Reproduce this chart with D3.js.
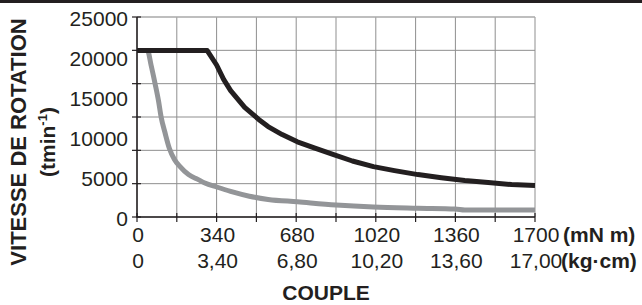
<!DOCTYPE html>
<html>
<head>
<meta charset="utf-8">
<script src="https://cdn.jsdelivr.net/npm/d3@7"></script>
<style>
  body { margin: 0; background: #fff; }
  svg { display: block; font-family: "Liberation Sans", Arial, Helvetica, sans-serif; }
</style>
</head>
<body>
<div id="chart"></div>
<script>
// Couple / vitesse de rotation
const torqueMN = [0, 45, 60, 77, 92, 103, 120, 138, 160, 184, 220, 260, 290, 340, 400, 480, 560, 685, 850, 1010, 1200, 1360, 1400, 1700];
const speedGray = [20800, 20800, 19000, 16700, 14500, 12500, 10500, 8600, 7200, 6300, 5300, 4700, 4250, 3750, 3200, 2600, 2200, 1900, 1500, 1250, 1100, 1000, 880, 875];

const torqueBlack = [0, 300, 340, 370, 400, 460, 520, 560, 620, 685, 760, 840, 920, 1010, 1100, 1200, 1300, 1400, 1500, 1600, 1700];
const speedBlack = [20800, 20800, 19000, 17200, 15800, 13700, 12200, 11300, 10300, 9400, 8600, 7800, 7000, 6300, 5800, 5300, 4900, 4550, 4300, 4050, 3950];

const yTicks = [0, 5000, 10000, 15000, 20000, 25000];
const xTicks = [0, 340, 680, 1020, 1360, 1700];
const xLabelsMN = ["0", "340", "680", "1020", "1360", "1700"];
const xLabelsKg = ["0", "3,40", "6,80", "10,20", "13,60", "17,00"];
const xGridStep = 170;
const yGridCount = 6;

const width = 642, height = 305;
const ink = "#231f20";

const svg = d3.select("#chart").append("svg")
  .attr("width", width)
  .attr("height", height);

svg.append("rect").attr("width", width).attr("height", height).attr("fill", "#fff");

// bande noire en haut
svg.append("rect")
  .attr("x", 0).attr("y", 0)
  .attr("width", width).attr("height", 3)
  .attr("fill", ink);

const x = d3.scaleLinear().domain([0, 1700]).range([137, 535]);
const y = d3.scaleLinear().domain([0, 25000]).range([217, 17]);

// grille
const gridX = d3.range(0, 1700 + 1, xGridStep);
const gridY = d3.range(0, yGridCount + 1).map(i => i * 25000 / yGridCount);

svg.append("g").selectAll("line")
  .data(gridX)
  .enter().append("line")
  .attr("x1", d => x(d)).attr("x2", d => x(d))
  .attr("y1", y(25000)).attr("y2", y(0))
  .attr("stroke", "#8f8f8f")
  .attr("stroke-width", 1);

svg.append("g").selectAll("line")
  .data(gridY)
  .enter().append("line")
  .attr("x1", x(0)).attr("x2", x(1700))
  .attr("y1", d => y(d)).attr("y2", d => y(d))
  .attr("stroke", d => d === 25000 ? "#a8a8a8" : "#8f8f8f")
  .attr("stroke-width", d => d === 25000 ? 1.5 : 1);

// axes
svg.append("line")
  .attr("x1", x(0)).attr("x2", x(0))
  .attr("y1", y(25000)).attr("y2", y(0) + 0.5)
  .attr("stroke", ink).attr("stroke-width", 1.5);

svg.append("line")
  .attr("x1", x(0) - 0.5).attr("x2", x(1700))
  .attr("y1", y(0)).attr("y2", y(0))
  .attr("stroke", ink).attr("stroke-width", 1.5);

// petites graduations
svg.append("g").selectAll("line")
  .data(gridY)
  .enter().append("line")
  .attr("x1", x(0) - 5).attr("x2", x(0) + 4)
  .attr("y1", d => y(d)).attr("y2", d => y(d))
  .attr("stroke", ink).attr("stroke-width", 1.2);

svg.append("g").selectAll("line")
  .data(gridX)
  .enter().append("line")
  .attr("x1", d => x(d)).attr("x2", d => x(d))
  .attr("y1", y(0) - 4).attr("y2", y(0) + 5)
  .attr("stroke", ink).attr("stroke-width", 1.2);

// courbes
const line = d3.line()
  .x(d => x(d[0]))
  .y(d => y(d[1]))
  .curve(d3.curveMonotoneX);

svg.append("path")
  .datum(torqueMN.map((t, i) => [t, speedGray[i]]))
  .attr("d", line)
  .attr("fill", "none")
  .attr("stroke", "#939598")
  .attr("stroke-width", 5)
  .attr("stroke-linejoin", "round");

svg.append("path")
  .datum(torqueBlack.map((t, i) => [t, speedBlack[i]]))
  .attr("d", d3.line().x(d => x(d[0])).y(d => y(d[1])))
  .attr("fill", "none")
  .attr("stroke", ink)
  .attr("stroke-width", 5)
  .attr("stroke-linejoin", "round");

// étiquettes Y
svg.append("g").selectAll("text")
  .data(yTicks)
  .enter().append("text")
  .attr("x", 128)
  .attr("y", d => y(d) + 9)
  .attr("text-anchor", "end")
  .style("font-size", "21px")
  .style("fill", ink)
  .text(d => d);

// étiquettes X
svg.append("g").selectAll("text")
  .data(xTicks)
  .enter().append("text")
  .attr("x", d => x(d) + 1)
  .attr("y", 242)
  .attr("text-anchor", "middle")
  .style("font-size", "21px")
  .style("fill", ink)
  .text((d, i) => xLabelsMN[i]);

svg.append("g").selectAll("text")
  .data(xTicks)
  .enter().append("text")
  .attr("x", d => x(d) + 1)
  .attr("y", 268)
  .attr("text-anchor", "middle")
  .style("font-size", "21px")
  .style("fill", ink)
  .text((d, i) => xLabelsKg[i]);

svg.append("text")
  .attr("x", 563).attr("y", 242)
  .style("font-size", "21px").style("font-weight", "bold").style("fill", ink)
  .text("(mN m)");

svg.append("text")
  .attr("x", 561).attr("y", 268)
  .style("font-size", "21px").style("font-weight", "bold").style("fill", ink)
  .text("(kg·cm)");

svg.append("text")
  .attr("x", 326).attr("y", 300)
  .attr("text-anchor", "middle")
  .style("font-size", "21px").style("font-weight", "bold").style("fill", ink)
  .text("COUPLE");

// titre Y
svg.append("text")
  .attr("transform", "translate(26,142) rotate(-90)")
  .attr("text-anchor", "middle")
  .style("font-size", "22px").style("font-weight", "bold").style("fill", ink)
  .text("VITESSE DE ROTATION");

const unit = svg.append("text")
  .attr("transform", "translate(55,142) rotate(-90)")
  .attr("text-anchor", "middle")
  .style("font-size", "21px").style("font-weight", "bold").style("fill", ink);
unit.append("tspan").text("(tmin");
unit.append("tspan").attr("dy", -8).style("font-size", "13px").text("-1");
unit.append("tspan").attr("dy", 8).text(")");
</script>
</body>
</html>
